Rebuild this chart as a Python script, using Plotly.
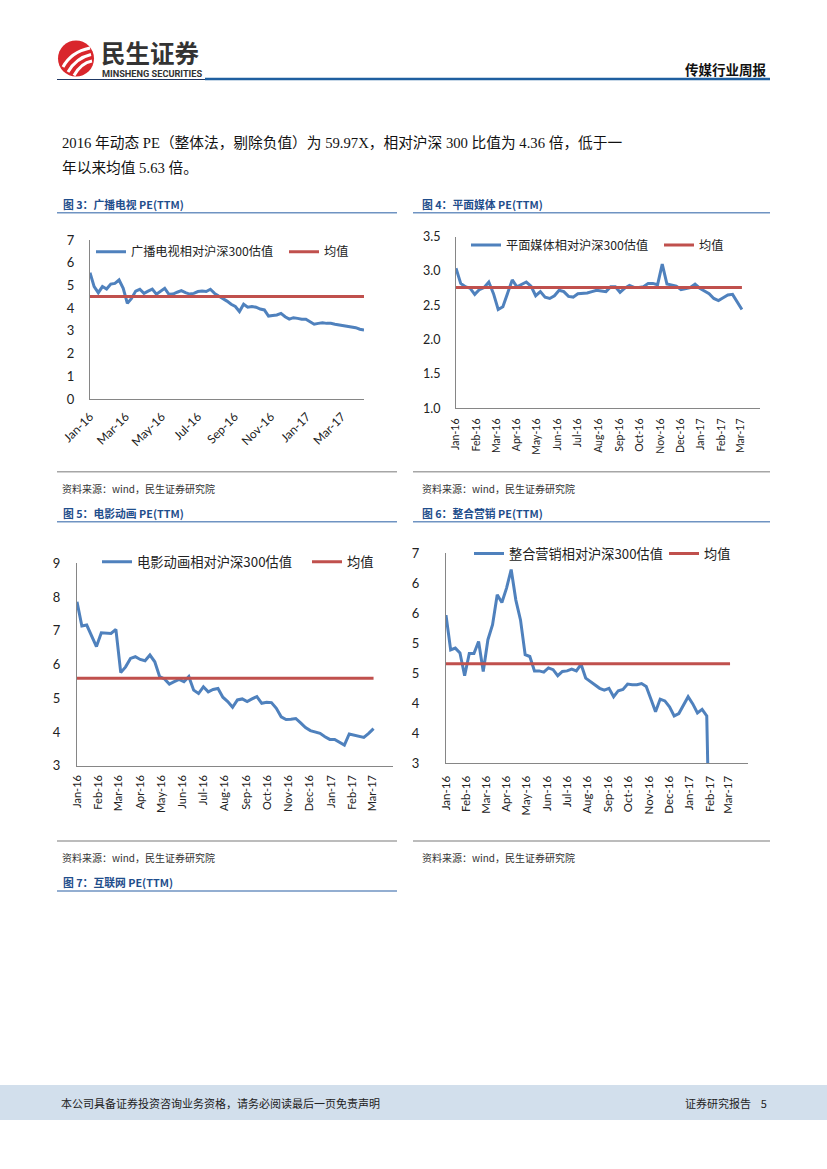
import plotly.graph_objects as go
import pandas as pd

W, H = 827, 1169

# ---------------- data ----------------
start_date = "2016-01-01"

name3 = "广播电视相对沪深300估值"
s3 = [5.56, 4.95, 4.68, 4.95, 4.84, 5.06, 5.09, 5.24, 4.87, 4.21,
      4.43, 4.75, 4.83, 4.65, 4.75, 4.84, 4.61, 4.75, 4.87, 4.61,
      4.62, 4.70, 4.77, 4.68, 4.62, 4.65, 4.73, 4.75, 4.73, 4.83,
      4.65, 4.53, 4.43, 4.31, 4.17, 4.07, 3.85, 4.17, 4.04, 4.07,
      4.04, 3.96, 3.92, 3.65, 3.68, 3.70, 3.77, 3.62, 3.52, 3.58,
      3.55, 3.51, 3.51, 3.40, 3.29, 3.33, 3.36, 3.33, 3.33, 3.29,
      3.26, 3.26, 3.21, 3.18, 3.14, 3.07, 3.04]
mean3 = 4.51

name4 = "平面媒体相对沪深300估值"
s4 = [3.04, 2.82, 2.77, 2.75, 2.66, 2.73, 2.76, 2.84, 2.67, 2.44,
      2.48, 2.67, 2.87, 2.77, 2.81, 2.84, 2.78, 2.64, 2.70, 2.62,
      2.60, 2.64, 2.72, 2.70, 2.63, 2.62, 2.67, 2.67, 2.68, 2.70,
      2.72, 2.71, 2.70, 2.77, 2.77, 2.69, 2.75, 2.79, 2.76, 2.76,
      2.77, 2.82, 2.82, 2.80, 3.10, 2.81, 2.80, 2.78, 2.73, 2.74,
      2.76, 2.81, 2.75, 2.71, 2.67, 2.60, 2.57, 2.61, 2.65, 2.66,
      2.55, 2.44]
mean4 = 2.76

name5 = "电影动画相对沪深300估值"
s5 = [7.86, 7.14, 7.17, 6.87, 6.53, 6.94, 6.94, 6.92, 7.04, 5.76,
      5.93, 6.18, 6.23, 6.15, 6.11, 6.28, 6.08, 5.64, 5.57, 5.42,
      5.49, 5.56, 5.49, 5.64, 5.24, 5.14, 5.34, 5.19, 5.26, 5.29,
      5.03, 4.90, 4.73, 4.95, 4.98, 4.90, 4.98, 5.05, 4.85, 4.88,
      4.87, 4.70, 4.45, 4.37, 4.38, 4.40, 4.27, 4.13, 4.04, 4.01,
      3.96, 3.86, 3.78, 3.78, 3.69, 3.61, 3.94, 3.91, 3.88, 3.84,
      3.96, 4.10]
mean5 = 5.59

name6 = "整合营销相对沪深300估值"
s6 = [5.47, 4.89, 4.92, 4.84, 4.46, 4.83, 4.83, 5.03, 4.53, 5.06,
      5.31, 5.81, 5.68, 5.92, 6.23, 5.72, 5.39, 4.81, 4.78, 4.54,
      4.54, 4.52, 4.59, 4.56, 4.46, 4.53, 4.54, 4.57, 4.54, 4.65,
      4.42, 4.36, 4.30, 4.25, 4.22, 4.25, 4.11, 4.21, 4.23, 4.32,
      4.31, 4.31, 4.33, 4.28, 4.07, 3.86, 4.07, 4.04, 3.94, 3.79,
      3.83, 3.96, 4.11, 3.99, 3.84, 3.90, 3.79, 0.0]
mean6 = 4.66
mean6_len = 62

mean_name = "均值"
y6_ticks = [3.0, 3.5, 4.0, 4.5, 5.0, 5.5, 6.0, 6.5]
y6_labels = ["3", "4", "4", "5", "5", "6", "6", "7"]

# ---------------- helpers ----------------
def X(px):
    return px / W

def Y(py):
    return 1 - py / H

def P(x, y):
    return f"{X(x):.5f},{Y(y):.5f}"

BLUE = "#4F81BD"
RED = "#C0504D"
AX = "#868686"
TITLE_C = "#1F4E8C"
CJK = "Noto Sans CJK SC"
TICKF = "Lato, Noto Sans CJK SC"
CLEAR = "rgba(0,0,0,0)"

d3 = pd.date_range(start_date, periods=len(s3), freq="7D")
d4 = pd.date_range(start_date, periods=len(s4), freq="7D")
d5 = pd.date_range(start_date, periods=len(s5), freq="7D")
d6 = pd.date_range(start_date, periods=len(s6), freq="7D")
d6m = pd.date_range(start_date, periods=mean6_len, freq="7D")

fig = go.Figure()

def add_pair(xa, ya, dates, vals, mdates, mval, name, lg1, lg2):
    fig.add_trace(go.Scatter(x=dates, y=vals, mode="lines", name=name,
                             line=dict(color=BLUE, width=3), xaxis=xa, yaxis=ya,
                             legend=lg1, hoverinfo="skip"))
    fig.add_trace(go.Scatter(x=mdates, y=[mval] * len(mdates), mode="lines", name=mean_name,
                             line=dict(color=RED, width=3), xaxis=xa, yaxis=ya,
                             legend=lg2, hoverinfo="skip"))

add_pair("x", "y", d3, s3, d3, mean3, name3, "legend", "legend2")
add_pair("x2", "y2", d4, s4, d4, mean4, name4, "legend3", "legend4")
add_pair("x3", "y3", d5, s5, d5, mean5, name5, "legend5", "legend6")
add_pair("x4", "y4", d6, s6, d6m, mean6, name6, "legend7", "legend8")

def xaxis(l, r, anchor, rng, dtick, angle, gap, size):
    return dict(domain=[X(l), X(r)], anchor=anchor, type="date", range=rng,
                dtick=dtick, tick0=start_date, tickformat="%b-%y", tickangle=angle,
                showline=True, linecolor=AX, linewidth=1, showgrid=False, zeroline=False,
                ticks="outside", ticklen=gap, tickcolor=CLEAR, tickwidth=1,
                automargin=False,
                tickfont=dict(family=TICKF, size=size, color="#222"))

def yaxis(top, bot, anchor, rng, gap, size, **kw):
    d = dict(domain=[Y(bot), Y(top)], anchor=anchor, range=rng,
             showline=True, linecolor=AX, linewidth=1, showgrid=False, zeroline=False,
             ticks="outside", ticklen=gap, tickcolor=CLEAR, tickwidth=1,
             automargin=False,
             tickfont=dict(family=TICKF, size=size, color="#222"))
    d.update(kw)
    return d

layout = dict(
    width=W, height=H, margin=dict(l=0, r=0, t=0, b=0, autoexpand=False),
    paper_bgcolor="white", plot_bgcolor="white", showlegend=True,
    xaxis=xaxis(90, 364, "y", ["2016-01-01", "2017-04-07"], "M2", -45, 5, 12),
    yaxis=yaxis(240, 399, "x", [0, 7], 12, 13, dtick=1),
    xaxis2=xaxis(456, 760, "y2", ["2016-01-01", "2017-03-30"], "M1", -90, 5, 10.5),
    yaxis2=yaxis(236.7, 408.3, "x2", [1, 3.5], 12, 12.5, dtick=0.5, tickformat=".1f"),
    xaxis3=xaxis(77, 393, "y3", ["2016-01-01", "2017-03-31"], "M1", -90, 4, 11),
    yaxis3=yaxis(563.3, 765.7, "x3", [3, 9], 13, 13, dtick=1),
    xaxis4=xaxis(446, 748, "y4", ["2016-01-01", "2017-03-30"], "M1", -90, 7, 11.5),
    yaxis4=yaxis(553.3, 763.3, "x4", [3, 6.5], 23, 13, tickvals=y6_ticks, ticktext=y6_labels),
)

def legend(xpx, ypx, size):
    return dict(x=X(xpx - 6), y=Y(ypx), xanchor="left", yanchor="middle",
                bgcolor=CLEAR, borderwidth=0, itemwidth=30,
                font=dict(family=CJK, size=size, color="#222"), tracegroupgap=0)

layout["legend"] = legend(97, 251.7, 12.2)
layout["legend2"] = legend(290, 251.7, 12.2)
layout["legend3"] = legend(472, 245, 12.2)
layout["legend4"] = legend(665, 245, 12.2)
layout["legend5"] = legend(103, 562, 13.3)
layout["legend6"] = legend(313, 562, 13.3)
layout["legend7"] = legend(475, 554, 13.2)
layout["legend8"] = legend(670, 554, 13.2)

fig.update_layout(**layout)

# ---------------- page decoration ----------------
shapes = []
ann = []

def hline(x0, x1, y, color, w):
    shapes.append(dict(type="line", xref="paper", yref="paper",
                       x0=X(x0), x1=X(x1), y0=Y(y), y1=Y(y),
                       line=dict(color=color, width=w)))

def text(x, y, s, size, color="#222", family=CJK, anchor="left", bold=False):
    if bold:
        s = "<b>" + s + "</b>"
    ann.append(dict(x=X(x), y=Y(y), xref="paper", yref="paper", text=s,
                    showarrow=False, xanchor=anchor, yanchor="middle",
                    font=dict(family=family, size=size, color=color)))

# logo
shapes.append(dict(type="circle", xref="paper", yref="paper",
                   x0=X(58), x1=X(94), y0=Y(76.5), y1=Y(40.5),
                   fillcolor="#D9262C", line=dict(width=0)))
for (a, b, c) in [((63, 67), (71, 52), (90, 48)),
                  ((68, 72), (76, 58), (91, 54.5)),
                  ((74, 75.5), (81, 63), (92, 61))]:
    shapes.append(dict(type="path", xref="paper", yref="paper",
                       path=f"M{P(*a)} Q{P(*b)} {P(*c)}",
                       line=dict(color="white", width=3)))
text(99, 52, "民生证券", 24.5, color="#333", bold=True)
text(100, 73.5, "MINSHENG SECURITIES", 9.2, color="#333", family="Roboto", bold=True)
text(769, 69.5, "传媒行业周报", 13.5, color="#111", anchor="right", bold=True)
hline(57, 205, 79.5, "#1F3864", 1)
hline(205, 770, 79, "#1F5FA0", 2.5)

# body text
BODY = "Liberation Serif, Noto Sans CJK SC"
text(60, 143, "2016 年动态 PE（整体法，剔除负值）为 59.97X，相对沪深 300 比值为 4.36 倍，低于一", 14.7, color="#111", family=BODY)
text(60, 168, "年以来均值 5.63 倍。", 14.7, color="#111", family=BODY)

# figure titles and rules
LINE_C = "#6F93C2"
SRC_C = "#A6A6A6"
TS = 10.8
text(61, 204, "图 3：广播电视 PE(TTM)", TS, color=TITLE_C, bold=True)
text(420, 204, "图 4：平面媒体 PE(TTM)", TS, color=TITLE_C, bold=True)
hline(57, 397, 212.7, LINE_C, 1.5)
hline(413, 770, 212.7, LINE_C, 1.5)

hline(57, 397, 471.7, SRC_C, 1.5)
hline(413, 770, 471.7, SRC_C, 1.5)
text(60, 488, "资料来源：wind，民生证券研究院", 10, color="#333")
text(420, 488, "资料来源：wind，民生证券研究院", 10, color="#333")

text(61, 512.5, "图 5：电影动画 PE(TTM)", TS, color=TITLE_C, bold=True)
text(420, 512.5, "图 6：整合营销 PE(TTM)", TS, color=TITLE_C, bold=True)
hline(57, 397, 521.7, LINE_C, 1.5)
hline(413, 770, 521.7, LINE_C, 1.5)

hline(57, 397, 841, SRC_C, 1.5)
hline(413, 770, 841, SRC_C, 1.5)
text(60, 857, "资料来源：wind，民生证券研究院", 10, color="#333")
text(420, 857, "资料来源：wind，民生证券研究院", 10, color="#333")

text(61, 882, "图 7：互联网 PE(TTM)", TS, color=TITLE_C, bold=True)
hline(57, 397, 891, LINE_C, 1.5)

# footer band
shapes.append(dict(type="rect", xref="paper", yref="paper",
                   x0=0, x1=1, y0=Y(1120), y1=Y(1085),
                   fillcolor="#D2DFEC", line=dict(width=0), layer="below"))
text(59, 1103, "本公司具备证券投资咨询业务资格，请务必阅读最后一页免责声明", 11, color="#222")
text(769, 1103, "证券研究报告&nbsp;&nbsp;&nbsp; 5", 11, color="#222", anchor="right")

fig.update_layout(shapes=shapes, annotations=ann)

fig.write_html("out.html", config={"displayModeBar": False},
               post_script="document.body.style.margin='0px';document.body.style.padding='0px';")
